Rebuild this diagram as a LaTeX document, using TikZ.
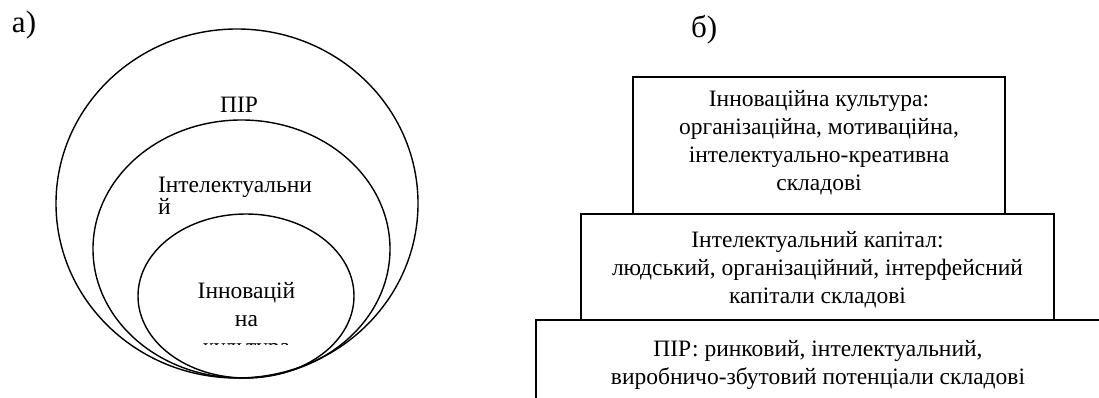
\documentclass[tikz,border=0pt]{standalone}
\usepackage{fontspec}
\setmainfont{Liberation Serif}
\usetikzlibrary{shapes.geometric}
\begin{document}
\begin{tikzpicture}[x=1pt,y=-1pt,
  every node/.style={inner sep=0pt,outer sep=0pt},
  ell/.style={draw,line width=1.4pt,ellipse},
  boxline/.style={draw,line width=2pt},
  txt/.style={font=\fontsize{23.5}{28}\selectfont,align=center},
  lbl/.style={font=\fontsize{31}{34}\selectfont}]
\clip (0,0) rectangle (1099,398);
\useasboundingbox (0,0) rectangle (1099,398);
% labels
\node[lbl,anchor=base west] (la) at (12,33) {а)};
\node[lbl,anchor=base west] (lb) at (691,38) {б)};
% left panel ellipses
\node[ell,minimum width=362pt,minimum height=349pt] (outer) at (237,203.5) {};
\node[ell,minimum width=297pt,minimum height=258pt] (middle) at (241.5,249) {};
\node[ell,minimum width=216pt,minimum height=164pt] (inner) at (246,296) {};
\node[txt,anchor=base] (tpir) at (239,113) {ПІР};
\node[font=\fontsize{23.5}{22}\selectfont,align=left,anchor=base west] (tint) at (158,214) {Інтелектуальни\\й};
\node[txt,anchor=base] (tinn) at (246.5,326) {Інновацій\\на};
\begin{scope}
  \clip (150,330) rectangle (350,344.3);
  \node[txt,anchor=base] (tkul) at (246.5,354) {культура};
\end{scope}
% right panel boxes
\draw[boxline] (536,410) -- (536,320) -- (1110,320);
\node[boxline,minimum width=473pt,minimum height=106pt] (bmid) at (817.5,267) {};
\node[boxline,fill=white,minimum width=372pt,minimum height=137pt] (btop) at (819,145.5) {};
\node[txt,anchor=base] (ttop) at (819,190) {Інноваційна культура:\\організаційна, мотиваційна,\\інтелектуально-креативна\\складові};
\node[txt,anchor=base] (tmid) at (817.5,303) {Інтелектуальний капітал:\\людський, організаційний, інтерфейсний\\капітали складові};
\node[txt,anchor=base] (tbot) at (818,384) {ПІР: ринковий, інтелектуальний,\\виробничо-збутовий потенціали складові};
\end{tikzpicture}
\end{document}
